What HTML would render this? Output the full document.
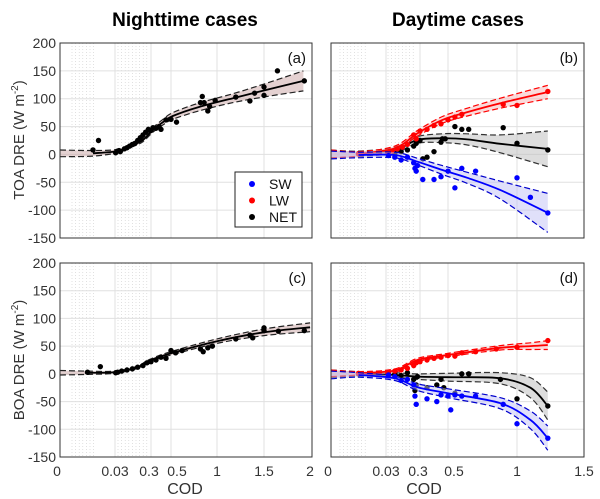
<!DOCTYPE html>
<html><head><meta charset="utf-8"><style>
body{margin:0;background:#fff}
svg{display:block;font-family:"Liberation Sans",Arial,sans-serif}
</style></head><body>
<svg id="c" width="600" height="499" viewBox="0 0 600 499">
<text x="185" y="26" font-size="19" font-weight="bold" text-anchor="middle">Nighttime cases</text>
<text x="458" y="26" font-size="19" font-weight="bold" text-anchor="middle">Daytime cases</text>
<text transform="translate(24,140) rotate(-90)" font-size="15" fill="#333" text-anchor="middle">TOA DRE (W m<tspan dy="-6" font-size="10">-2</tspan><tspan dy="6">)</tspan></text>
<text transform="translate(24,360) rotate(-90)" font-size="15" fill="#333" text-anchor="middle">BOA DRE (W m<tspan dy="-6" font-size="10">-2</tspan><tspan dy="6">)</tspan></text>
<text x="185" y="494" font-size="16" fill="#333" text-anchor="middle">COD</text>
<text x="424" y="494" font-size="16" fill="#333" text-anchor="middle">COD</text>
</svg>
<script>
// ---- data ----
const yTicks = [200,150,100,50,0,-50,-100,-150];
const xTicksNight = [0,0.03,0.3,0.5,1,1.5,2];
const xTickLabelsNight = ["0","0.03","0.3","0.5","1","1.5","2"];
const xTicksDay = [0,0.03,0.3,0.5,1,1.5];
const xTickLabelsDay = ["0","0.03","0.3","0.5","1","1.5"];

const fitA_x = [0,0.018,0.045,0.165,0.24,0.32,0.42,0.52,0.8,1.17,1.53,1.91];
const fitA_y = [2,2,6,17,26,44,58,69,85,101,116,132];
const fitA_w = [6,5,3,3,3,4,5,6,7,8,12,18];
const ptsA_x = [0.018,0.021,0.035,0.05,0.06,0.07,0.10,0.12,0.14,0.16,0.18,0.2,0.22,0.24,0.26,0.28,0.3,0.32,0.35,0.38,0.4,0.45,0.5,0.56,0.82,0.84,0.86,0.9,0.92,0.98,1.2,1.35,1.4,1.5,1.5,1.64,1.92];
const ptsA_y = [8,25,3,6,7,5,10,12,15,18,20,25,30,35,40,45,43,48,47,50,45,62,63,58,93,104,93,78,86,97,103,96,110,121,106,150,132];

const fitC_x = [0,0.015,0.03,0.2,0.28,0.48,1,1.5,1.98];
const fitC_y = [2,2,3,12,23,36,59,75,84];
const fitC_w = [4,3,2,2,2,3,4,6,8];
const ptsC_x = [0.015,0.022,0.035,0.05,0.08,0.12,0.16,0.2,0.24,0.27,0.3,0.35,0.4,0.45,0.5,0.55,0.62,0.82,0.85,0.9,0.95,1.2,1.35,1.38,1.5,1.5,1.65,1.92];
const ptsC_y = [3,13,2,3,5,7,9,12,15,20,22,25,30,28,42,38,42,45,40,47,50,63,70,65,83,78,77,78];

// daytime TOA (b)
const fitX_b = [0,0.015,0.1,0.28,0.46,0.64,0.88,1.23];
const fitLW_b = [1,1,11,38,62,76,92,112];
const bandLW_b = [7,4,4,5,6,7,9,12];
const fitNET_b = [1,1,8,26,29,27,19,10];
const bandNET_b = [7,5,5,6,8,10,16,32];
const fitSW_b = [-1,-1,-1,-13,-28,-42,-64,-105];
const bandSW_b = [7,5,5,6,8,10,16,35];
const ptsLW_bx = [0.015,0.05,0.08,0.12,0.16,0.2,0.25,0.27,0.3,0.35,0.4,0.45,0.5,0.55,0.6,0.9,1.0,1.23];
const ptsLW_by = [1,3,6,10,13,18,35,28,42,45,52,55,62,67,72,90,88,113];
const ptsNET_bx = [0.015,0.05,0.1,0.15,0.2,0.25,0.27,0.3,0.32,0.35,0.4,0.45,0.46,0.48,0.55,0.6,0.65,0.9,1.0,1.23];
const ptsNET_by = [1,0,2,5,8,15,20,25,-8,-5,5,22,28,28,50,45,45,48,20,8];
const ptsSW_bx = [0.05,0.1,0.15,0.2,0.25,0.26,0.27,0.28,0.32,0.4,0.45,0.5,0.55,0.6,0.7,1.0,1.1,1.23];
const ptsSW_by = [-2,-5,-10,-5,-15,-25,-30,-20,-45,-45,-40,-30,-60,-25,-30,-42,-77,-105];

// daytime BOA (d)
const fitX_d = [0,0.015,0.1,0.28,0.5,0.88,1.1,1.23];
const fitLW_d = [1,1,6,25,34,47,50,52];
const bandLW_d = [6,3,3,3,3,4,6,8];
const fitNET_d = [0,0,-2,-5,-6,-8,-25,-58];
const bandNET_d = [7,4,4,5,7,10,18,25];
const fitSW_d = [-2,-2,-8,-24,-35,-53,-83,-116];
const bandSW_d = [7,4,4,6,8,10,16,22];
const ptsLW_dx = [0.015,0.05,0.1,0.15,0.2,0.25,0.27,0.3,0.35,0.4,0.45,0.5,0.55,0.6,0.7,0.85,1.0,1.23];
const ptsLW_dy = [1,3,5,7,10,15,20,22,25,28,30,33,32,38,40,45,48,60];
const ptsNET_dx = [0.015,0.05,0.1,0.15,0.2,0.25,0.26,0.27,0.28,0.35,0.42,0.45,0.47,0.55,0.6,0.65,0.88,1.0,1.23];
const ptsNET_dy = [0,2,0,-3,2,-10,-30,-20,-5,-25,-20,-10,-25,-35,0,0,-10,-45,-58];
const ptsSW_dx = [0.05,0.1,0.15,0.2,0.25,0.26,0.27,0.35,0.42,0.45,0.5,0.52,0.55,0.6,0.7,0.9,1.0,1.23];
const ptsSW_dy = [-2,-5,-12,-10,-20,-40,-55,-45,-50,-38,-40,-65,-38,-40,-40,-55,-90,-116];

const legendLabels = ["SW","LW","NET"];
const legendColors = ["#0000ff","#ff0000","#000000"];
</script>
<script>
const svg = document.getElementById('c');
const NS = 'http://www.w3.org/2000/svg';
function mk(tag, attrs, parent){const e=document.createElementNS(NS,tag);for(const k in attrs)e.setAttribute(k,attrs[k]);(parent||svg).appendChild(e);return e;}
function xScale(v, tv, tp){
  for(let i=0;i<tv.length-1;i++){ if(v<=tv[i+1]||i===tv.length-2){return tp[i]+(v-tv[i])/(tv[i+1]-tv[i])*(tp[i+1]-tp[i]);} }
}
function smoothPath(pts){
  let d='M'+pts[0][0].toFixed(1)+','+pts[0][1].toFixed(1);
  for(let i=0;i<pts.length-1;i++){
    const p0=pts[Math.max(i-1,0)],p1=pts[i],p2=pts[i+1],p3=pts[Math.min(i+2,pts.length-1)];
    const c1=[p1[0]+(p2[0]-p0[0])/6,p1[1]+(p2[1]-p0[1])/6],c2=[p2[0]-(p3[0]-p1[0])/6,p2[1]-(p3[1]-p1[1])/6];
    d+=' C'+c1.map(n=>n.toFixed(1)).join(',')+' '+c2.map(n=>n.toFixed(1)).join(',')+' '+p2[0].toFixed(1)+','+p2[1].toFixed(1);
  }
  return d;
}
function panel(o){
  const g=mk('g',{});
  
  
  const L=o.x0,R=o.x1,T=o.y0,B=o.y1;
  const ys=v=>T+(200-v)/350*(B-T);
  const xs=v=>xScale(v,o.tv,o.tp);
  o.dots.forEach(([a,b])=>{for(let x=a;x<=b;x+=3.6){const l=mk('line',{x1:x,x2:x,y1:T,y2:B,stroke:'#ccc','stroke-width':0.6,'stroke-dasharray':'1,2'},g);}});
  yTicks.forEach(v=>{const l=mk('line',{x1:L,x2:R,y1:ys(v),y2:ys(v),stroke:'#e0e0e0','stroke-width':1},g);
    if(o.showY){const t=mk('text',{x:L-4,y:ys(v)+5,'font-size':14,fill:'#333','text-anchor':'end'},g);t.textContent=v;}});
  o.tv.forEach((v,i)=>{const l=mk('line',{x1:xs(v),x2:xs(v),y1:T,y2:B,stroke:'#e0e0e0','stroke-width':1},g);
    if(o.showX){const t=mk('text',{x:xs(v)+(o.labDx[i]||0),y:B+19,'font-size':14,fill:'#333','text-anchor':'middle'},g);t.textContent=o.tl[i];}});
  o.series.forEach(s=>{
    const up=s.fx.map((x,i)=>[xs(x),ys(s.fy[i]+s.fw[i])]);
    const dn=s.fx.map((x,i)=>[xs(x),ys(s.fy[i]-s.fw[i])]);
    const ctr=s.fx.map((x,i)=>[xs(x),ys(s.fy[i])]);
    const rev=dn.slice().reverse();
    const band=mk('path',{d:smoothPath(up)+' L'+rev[0].join(',')+' '+smoothPath(rev).slice(1).replace(/^[^C]*/,''),fill:s.fill,'fill-opacity':0.5,stroke:'none'},g);
    
    [up,dn].forEach(p=>{const e=mk('path',{d:smoothPath(p),fill:'none',stroke:s.dash,'stroke-width':1.2,'stroke-dasharray':'6,3'},g);});
    const fl=mk('path',{d:smoothPath(ctr.slice(1)),fill:'none',stroke:s.col,'stroke-width':1.8},g);
    
    s.px.forEach((x,i)=>{const c=mk('circle',{cx:xs(x),cy:ys(s.py[i]),r:2.7,fill:s.col},g);});
  });
  const br=mk('rect',{x:L,y:T,width:R-L,height:B-T,fill:'none',stroke:'#333','stroke-width':1},g);
  
  const pl=mk('text',{x:R-6,y:T+20,'font-size':15,fill:'#111','text-anchor':'end'},g);pl.textContent=o.label;
  
}
const nightTp=[60,115,151,171,217,264,312], dayTp=[331,386,420,448,517,584];
panel({name:'panel-a',x0:60,x1:312,y0:43,y1:238,tv:xTicksNight,tp:nightTp,tl:xTickLabelsNight,showX:false,showY:true,labDx:[],label:'(a)',dots:[[72,97],[118,147]],
  series:[{key:'net',fx:fitA_x,fy:fitA_y,fw:fitA_w,px:ptsA_x,py:ptsA_y,col:'#000',fill:'#c9a3a3',dash:'#222'}]});
panel({name:'panel-c',x0:60,x1:312,y0:263,y1:457,tv:xTicksNight,tp:nightTp,tl:xTickLabelsNight,showX:true,showY:true,labDx:[-3,0,-2,6,0,0,-2],label:'(c)',dots:[[72,97],[118,147]],
  series:[{key:'net',fx:fitC_x,fy:fitC_y,fw:fitC_w,px:ptsC_x,py:ptsC_y,col:'#000',fill:'#c9a3a3',dash:'#222'}]});
panel({name:'panel-b',x0:331,x1:584,y0:43,y1:238,tv:xTicksDay,tp:dayTp,tl:xTickLabelsDay,showX:false,showY:false,labDx:[],label:'(b)',dots:[[340,368],[388,415]],
  series:[{key:'net',fx:fitX_b,fy:fitNET_b,fw:bandNET_b,px:ptsNET_bx,py:ptsNET_by,col:'#000',fill:'#bbb',dash:'#333'},
          {key:'lw',fx:fitX_b,fy:fitLW_b,fw:bandLW_b,px:ptsLW_bx,py:ptsLW_by,col:'#ff0000',fill:'#f7b6b6',dash:'#ff0000'},
          {key:'sw',fx:fitX_b,fy:fitSW_b,fw:bandSW_b,px:ptsSW_bx,py:ptsSW_by,col:'#0000ff',fill:'#c2c2f5',dash:'#0000cc'}]});
panel({name:'panel-d',x0:331,x1:584,y0:263,y1:457,tv:xTicksDay,tp:dayTp,tl:xTickLabelsDay,showX:true,showY:false,labDx:[-3,0,-2,6,0,0],label:'(d)',dots:[[340,368],[388,415]],
  series:[{key:'net',fx:fitX_d,fy:fitNET_d,fw:bandNET_d,px:ptsNET_dx,py:ptsNET_dy,col:'#000',fill:'#bbb',dash:'#333'},
          {key:'lw',fx:fitX_d,fy:fitLW_d,fw:bandLW_d,px:ptsLW_dx,py:ptsLW_dy,col:'#ff0000',fill:'#f7b6b6',dash:'#ff0000'},
          {key:'sw',fx:fitX_d,fy:fitSW_d,fw:bandSW_d,px:ptsSW_dx,py:ptsSW_dy,col:'#0000ff',fill:'#c2c2f5',dash:'#0000cc'}]});
const lg=mk('g',{});


mk('rect',{x:235,y:172,width:67,height:55,fill:'#fff',stroke:'#222','stroke-width':1},lg);
legendLabels.forEach((t,i)=>{
  const e=mk('g',{},lg);
  
  
  mk('circle',{cx:252,cy:184+i*16.5,r:3,fill:legendColors[i]},e);
  const tx=mk('text',{x:269,y:189+i*16.5,'font-size':14,fill:'#111'},e);tx.textContent=t;
});
</script>
</body></html>
